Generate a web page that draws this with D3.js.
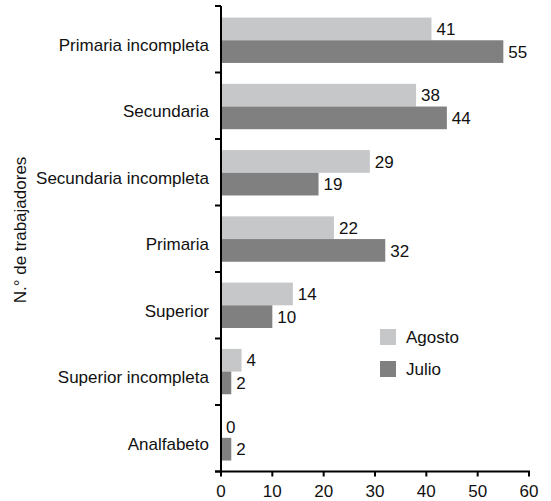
<!DOCTYPE html>
<html><head><meta charset="utf-8">
<script src="https://cdn.jsdelivr.net/npm/d3@7"></script>
<style>body{margin:0;background:#fff}svg{display:block}text{font-family:"Liberation Sans",Arial,sans-serif;fill:#111}</style>
</head><body><svg id="c" width="551" height="501"></svg>
<script>
const categories = ["Primaria incompleta","Secundaria","Secundaria incompleta","Primaria","Superior","Superior incompleta","Analfabeto"];
const seriesNames = ["Agosto","Julio"];
const agosto = [41,38,29,22,14,4,0];
const julio = [55,44,19,32,10,2,2];
const xTicks = [0,10,20,30,40,50,60];
const colors = {Agosto:"#c6c7c8", Julio:"#808080"};

const svg = d3.select("#c");
const FS = 17;
const x0 = 221, x1 = 529, yTop = 6, yBot = 471.5;
const x = d3.scaleLinear().domain([0,60]).range([x0,x1]);
const y = d3.scaleBand().domain(categories).range([yTop,yBot]).paddingInner(0.315).paddingOuter(0.17);
const ys = d3.scaleBand().domain(seriesNames).range([0,y.bandwidth()]);
const data = categories.map((c,i)=>({cat:c, vals:[{s:"Agosto",v:agosto[i]},{s:"Julio",v:julio[i]}]}));

const g = svg.append("g");
const grp = g.selectAll("g.cat").data(data).join("g").attr("transform",d=>`translate(0,${y(d.cat)+0.3})`);
grp.selectAll("rect").data(d=>d.vals).join("rect")
  .attr("x",x(0)).attr("y",d=>ys(d.s)).attr("width",d=>x(d.v)-x(0)).attr("height",ys.bandwidth())
  .attr("fill",d=>colors[d.s]);
grp.selectAll("text").data(d=>d.vals).join("text")
  .attr("x",d=>x(d.v)+5).attr("y",d=>ys(d.s)+ys.bandwidth()/2).attr("dy","0.36em")
  .attr("font-size",FS).text(d=>d.v);

// y axis
svg.append("line").attr("x1",x0).attr("x2",x0).attr("y1",yTop).attr("y2",yBot).attr("stroke","#000").attr("stroke-width",2);
const step = (yBot-yTop)/categories.length;
svg.selectAll("line.yt").data(d3.range(categories.length+1)).join("line")
  .attr("x1",x0-6).attr("x2",x0).attr("y1",i=>yTop+i*step).attr("y2",i=>yTop+i*step).attr("stroke","#000").attr("stroke-width",2);
svg.selectAll("text.cat").data(categories).join("text")
  .attr("x",209).attr("y",d=>yTop+categories.indexOf(d)*step+step/2+5.5).attr("dy","0.36em")
  .attr("text-anchor","end").attr("font-size",FS).text(d=>d);

// x axis
svg.append("line").attr("x1",x0-6).attr("x2",x1+1).attr("y1",yBot).attr("y2",yBot).attr("stroke","#000").attr("stroke-width",2);
svg.selectAll("line.xt").data(xTicks).join("line")
  .attr("x1",d=>x(d)).attr("x2",d=>x(d)).attr("y1",yBot).attr("y2",yBot+5).attr("stroke","#000").attr("stroke-width",2);
svg.selectAll("text.xt").data(xTicks).join("text")
  .attr("x",d=>x(d)).attr("y",497).attr("text-anchor","middle").attr("font-size",FS).text(d=>d);

// y title
svg.append("text").attr("transform","translate(26,230) rotate(-90)").attr("text-anchor","middle")
  .attr("font-size",FS).text("N.° de trabajadores");

// legend
const lg = svg.append("g").attr("transform","translate(380,329)");
seriesNames.forEach((s,i)=>{
  lg.append("rect").attr("x",0).attr("y",i*32).attr("width",16).attr("height",16).attr("fill",colors[s]);
  lg.append("text").attr("x",26).attr("y",i*32+8).attr("dy","0.36em").attr("font-size",FS).text(s);
});
</script></body></html>
